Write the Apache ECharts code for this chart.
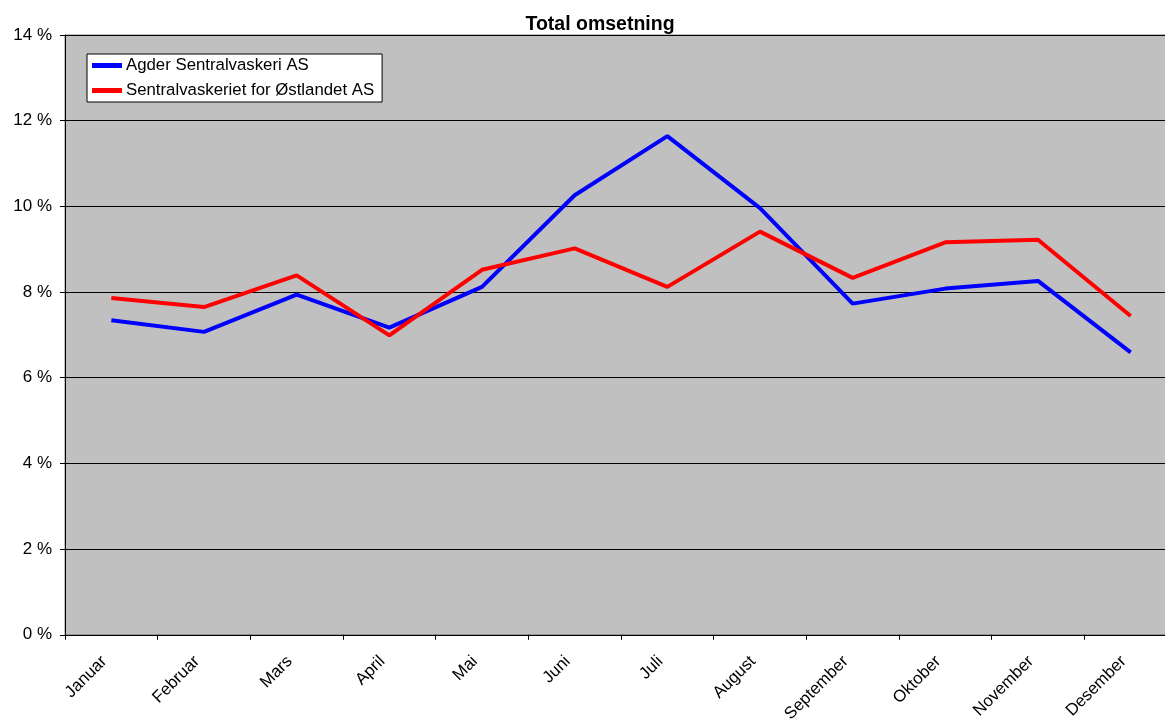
<!DOCTYPE html>
<html>
<head>
<meta charset="utf-8">
<script src="https://cdn.jsdelivr.net/npm/echarts@6/dist/echarts.min.js"></script>
<style>html,body{margin:0;padding:0;background:#fff;overflow:hidden;width:1165px;height:725px}#c{width:1185px;height:725px}</style>
</head>
<body>
<div id="c"></div>
<script>
const categories = ['Januar','Februar','Mars','April','Mai','Juni','Juli','August','September','Oktober','November','Desember'];
const seriesNames = ['Agder Sentralvaskeri AS','Sentralvaskeriet for Østlandet AS'];
const agder = [7.34, 7.07, 7.94, 7.17, 8.12, 10.26, 11.64, 9.96, 7.73, 8.08, 8.26, 6.59];
const ostlandet = [7.86, 7.65, 8.39, 6.99, 8.52, 9.02, 8.12, 9.41, 8.33, 9.16, 9.22, 7.44];
const yTicks = {min: 0, max: 14, interval: 2};
const titleText = 'Total omsetning';

const chart = echarts.init(document.getElementById('c'), null, {renderer: 'canvas'});
const font = 'Liberation Sans, Arial, sans-serif';
chart.setOption({
  animation: false,
  textStyle: {fontFamily: font},
  title: {
    text: titleText, left: 595, top: 10, textAlign: 'center',
    textStyle: {fontFamily: font, fontSize: 19.5, fontWeight: 'bold', color: '#000'}
  },
  legend: {
    orient: 'vertical', left: 87, top: 54,
    backgroundColor: '#fff', borderColor: '#000', borderWidth: 1, borderRadius: 0,
    padding: [3, 8, 3, 5], itemGap: 8, itemWidth: 30, itemHeight: 5,
    icon: 'rect',
    textStyle: {fontFamily: font, fontSize: 16.8, color: '#000', lineHeight: 17, padding: [0,0,0,-1]},
    data: seriesNames
  },
  grid: {
    left: 65, top: 35, width: 1112, height: 602,
    show: true, backgroundColor: '#c0c0c0', borderColor: '#808080', borderWidth: 1
  },
  xAxis: {
    type: 'category', data: categories, boundaryGap: true,
    axisLine: {lineStyle: {color: '#000', width: 1}},
    axisTick: {show: true, length: 5, inside: false, alignWithLabel: false, lineStyle: {color: '#000'}},
    axisLabel: {rotate: 45, margin: 17, fontSize: 16.8, color: '#000', fontFamily: font, interval: 0, padding: [0, 10, 0, 0]}
  },
  yAxis: {
    type: 'value', min: yTicks.min, max: yTicks.max, interval: yTicks.interval,
    axisLine: {show: true, lineStyle: {color: '#000', width: 1}},
    axisTick: {show: true, length: 5, lineStyle: {color: '#000'}},
    axisLabel: {formatter: '{value} %', fontSize: 17, color: '#000', margin: 13, fontFamily: font},
    splitLine: {show: true, lineStyle: {color: '#000', width: 1}}
  },
  series: [
    {name: seriesNames[0], type: 'line', data: agder, showSymbol: false, symbol: 'none',
     lineStyle: {color: '#0000ff', width: 4}, itemStyle: {color: '#0000ff'}},
    {name: seriesNames[1], type: 'line', data: ostlandet, showSymbol: false, symbol: 'none',
     lineStyle: {color: '#ff0000', width: 4}, itemStyle: {color: '#ff0000'}}
  ]
});
</script>
</body>
</html>
